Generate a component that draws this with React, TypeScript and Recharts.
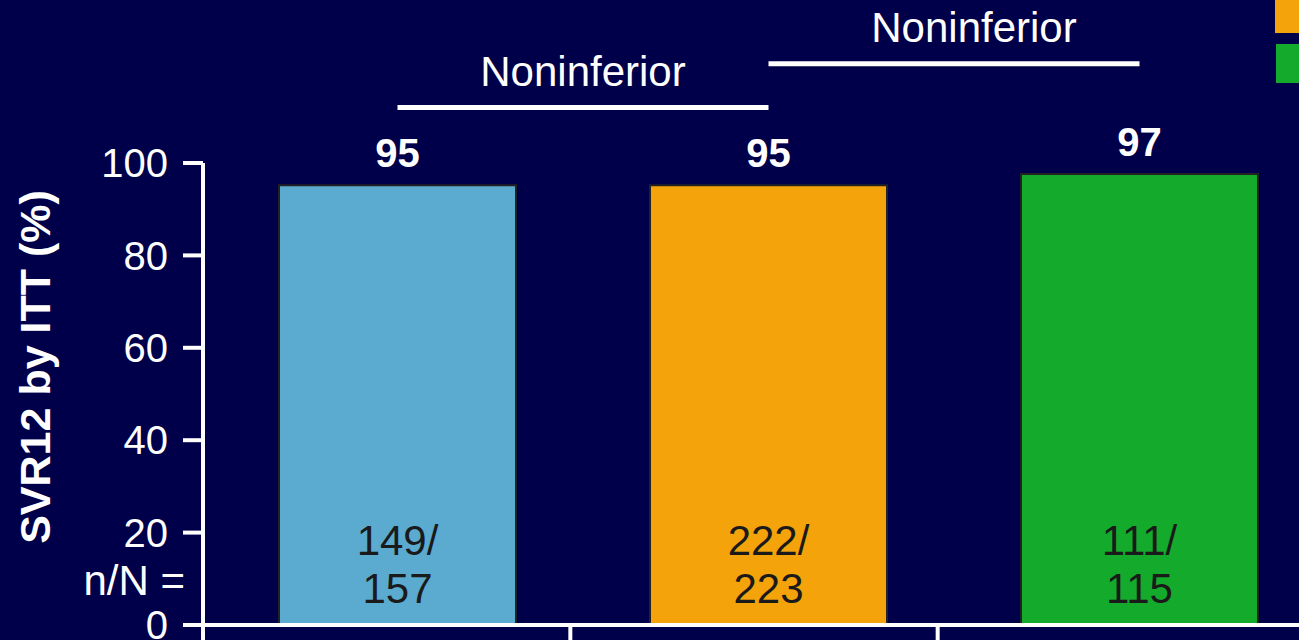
import { BarChart, Bar, XAxis, YAxis, Cell, LabelList, ReferenceLine } from "recharts";

const FONT = "'Liberation Sans', Arial, sans-serif";
const BG = "#00004A";

// three treatment arms, left to right
const arms = ["arm1", "arm2", "arm3"];
const svrHeights = [95.2, 95.2, 97.6]; // bar heights as drawn
const svrLabels = ["95", "95", "97"];
const responders = [149, 222, 111];
const totals = [157, 223, 115];
const barColors = ["#5BAACF", "#F5A30B", "#14AB2D"];
const legendColors = ["#F5A30B", "#14AB2D"];
const yTicks = [0, 20, 40, 60, 80, 100];

// noninferiority brackets drawn above the bars
const bracketFrom = ["arm1", "arm2"];
const bracketTo = ["arm2", "arm3"];
const bracketLevel = [112, 121.5];
const bracketText = ["Noninferior", "Noninferior"];

const data = arms.map((arm, i) => ({
  arm,
  svr: svrHeights[i],
  pct: svrLabels[i],
  count: `${responders[i]}/|${totals[i]}`,
}));

const CountLabel = (props: any) => {
  const { x, y, width, height, value } = props;
  const [top, bottom] = String(value).split("|");
  const cx = x + width / 2;
  const base = y + height;
  return (
    <g fontFamily={FONT} fontSize={42} fill="#1a1a1a" textAnchor="middle">
      <text x={cx} y={base - 70}>{top}</text>
      <text x={cx} y={base - 22}>{bottom}</text>
    </g>
  );
};

const AxisTitle = (props: any) => {
  const { x, y, height } = props.viewBox;
  const cy = y + height / 2 - 27;
  return (
    <g fontFamily={FONT} fill="#fff">
      <text
        transform={`translate(${x + 35},${cy}) rotate(-90)`}
        textAnchor="middle"
        dominantBaseline="central"
        fontSize={43}
        fontWeight="bold"
      >
        SVR12 by ITT (%)
      </text>
      <text x={x + 185} y={y + height - 30} textAnchor="end" fontSize={42}>
        n/N =
      </text>
    </g>
  );
};

// tick marks sit on the category boundaries, not the centres
const BoundaryTick = (props: any) => {
  const { x, y, payload } = props;
  const bx = x - (payload?.offset ?? 0);
  return <line x1={bx} y1={y} x2={bx} y2={y + 20} stroke="#fff" strokeWidth={4} />;
};

export default function App() {
  return (
    <div
      style={{
        position: "absolute",
        left: 0,
        top: 0,
        width: 1299,
        height: 640,
        overflow: "hidden",
        background: BG,
      }}
    >
      <BarChart
        width={1330}
        height={640}
        data={data}
        margin={{ top: 163, right: 5, left: 0, bottom: 0 }}
      >
        <XAxis
          xAxisId="axis"
          dataKey="arm"
          height={15}
          padding={{ left: 0, right: 20 }}
          axisLine={{ stroke: "#fff", strokeWidth: 4 }}
          tickLine={false}
          tickSize={0}
          tickMargin={0}
          tick={<BoundaryTick />}
          interval={0}
        />
        <XAxis xAxisId="bars" dataKey="arm" hide padding={{ left: 9, right: 0 }} />
        <YAxis
          domain={[0, 100]}
          ticks={yTicks}
          width={203}
          interval={0}
          axisLine={{ stroke: "#fff", strokeWidth: 4 }}
          tickLine={{ stroke: "#fff", strokeWidth: 4 }}
          tickSize={20}
          tickMargin={15}
          tick={{ fill: "#fff", fontSize: 40, fontFamily: FONT }}
          label={<AxisTitle />}
        />
        <Bar
          xAxisId="bars"
          dataKey="svr"
          barSize={237}
          stroke="#222"
          strokeWidth={2}
          isAnimationActive={false}
        >
          {data.map((d, i) => (
            <Cell key={d.arm} fill={barColors[i]} />
          ))}
          <LabelList
            dataKey="pct"
            position="top"
            offset={18}
            fill="#fff"
            fontSize={40}
            fontWeight="bold"
            fontFamily={FONT}
          />
          <LabelList dataKey="count" content={<CountLabel />} />
        </Bar>
        {bracketFrom.map((from, i) => (
          <ReferenceLine
            key={i}
            xAxisId="bars"
            ifOverflow="visible"
            segment={[
              { x: from, y: bracketLevel[i] },
              { x: bracketTo[i], y: bracketLevel[i] },
            ]}
            stroke="#fff"
            strokeWidth={5}
            label={{
              value: bracketText[i],
              position: "top",
              offset: 22,
              dx: i === 1 ? 20 : 0,
              fill: "#fff",
              fontSize: 42,
              fontFamily: FONT,
            }}
          />
        ))}
      </BarChart>
      {legendColors.map((c, i) => (
        <div
          key={c}
          style={{
            position: "absolute",
            left: 1275 + i,
            top: -6 + i * 50,
            width: 40,
            height: 39,
            background: c,
          }}
        />
      ))}
    </div>
  );
}
